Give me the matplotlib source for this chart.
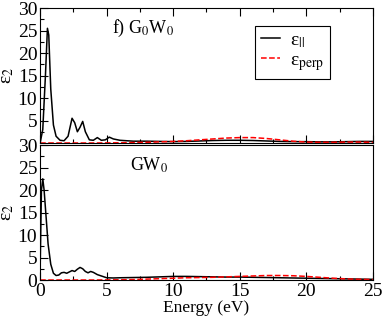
import matplotlib
matplotlib.use("Agg")
import matplotlib.pyplot as plt

plt.rcParams['font.family'] = ['Liberation Serif', 'DejaVu Serif']
plt.rcParams['mathtext.fontset'] = 'stix'

# G0W0 panel
e_top_par = [0, 0.2, 0.4, 0.55, 0.65, 0.8, 1.0, 1.2, 1.5, 1.8, 2.1, 2.4, 2.6, 2.8, 3.0, 3.2,
             3.4, 3.7, 4.0, 4.3, 4.6, 4.9, 5.2, 5.5, 6.0, 7, 8, 9, 10, 11, 12, 13, 14, 15,
             16, 17, 18, 19, 20, 21, 22, 23, 24, 25]
eps_top_par = [0, 3, 15, 25.5, 24, 12, 4, 1.5, 0.6, 0.5, 1.5, 5.5, 4.5, 2.5, 3.5, 4.8,
               2.5, 0.7, 0.6, 1.2, 0.6, 0.7, 1.3, 0.9, 0.6, 0.4, 0.4, 0.35, 0.3, 0.35, 0.45,
               0.55, 0.6, 0.6, 0.55, 0.45, 0.35, 0.3, 0.3, 0.25, 0.25, 0.3, 0.35, 0.35]
e_top_perp = [0, 2, 4, 5, 6, 7, 8, 9, 10, 11, 12, 13, 14, 15, 16, 17, 18, 19, 20, 21, 22, 23, 24, 25]
eps_top_perp = [0, 0, 0, 0.02, 0.05, 0.1, 0.15, 0.25, 0.35, 0.5, 0.7, 0.9, 1.1, 1.2, 1.2,
                1.0, 0.7, 0.4, 0.2, 0.15, 0.15, 0.2, 0.2, 0.15]

# GW0 panel
e_bot_par = [0, 0.1, 0.2, 0.3, 0.45, 0.6, 0.8, 1.0, 1.2, 1.4, 1.6, 1.8, 2.0, 2.2, 2.4, 2.6,
             2.8, 3.0, 3.2, 3.4, 3.6, 3.8, 4.0, 4.3, 4.6, 5.0, 5.5, 6, 7, 8, 9, 10, 11, 12,
             13, 14, 15, 16, 17, 18, 19, 20, 21, 22, 23, 24, 25]
eps_bot_par = [2, 20, 22.5, 20, 14, 8, 3.5, 1.5, 1.0, 1.1, 1.6, 1.7, 1.5, 1.8, 2.1, 1.9,
               2.4, 2.8, 2.5, 1.9, 1.6, 1.9, 1.7, 1.2, 0.9, 0.5, 0.45, 0.5, 0.55, 0.6, 0.7,
               0.8, 0.8, 0.75, 0.7, 0.65, 0.65, 0.6, 0.55, 0.5, 0.45, 0.4, 0.35, 0.3, 0.25,
               0.2, 0.15]
e_bot_perp = [0, 2, 4, 5, 6, 7, 8, 9, 10, 11, 12, 13, 14, 15, 16, 17, 18, 19, 20, 21, 22, 23, 24, 25]
eps_bot_perp = [0, 0, 0, 0.02, 0.05, 0.1, 0.2, 0.3, 0.4, 0.5, 0.55, 0.6, 0.7, 0.8, 0.9,
                1.0, 1.0, 0.95, 0.8, 0.6, 0.4, 0.25, 0.15, 0.1]

yticks_top = [5, 10, 15, 20, 25, 30]   # top panel's 0 sits under the lower panel's 30
yticks_bot = [0, 5, 10, 15, 20, 25, 30]

fig = plt.figure(figsize=(3.82, 3.16), dpi=100)
ax1 = fig.add_axes([0.105, 0.5475, 0.871, 0.427])
ax2 = fig.add_axes([0.105, 0.1139, 0.871, 0.427])

for ax, yt in ((ax1, yticks_top), (ax2, yticks_bot)):
    ax.set_xlim(0, 25)
    ax.set_ylim(0, 30)
    ax.set_xticks([0, 5, 10, 15, 20, 25])
    ax.set_xticks([2.5, 7.5, 12.5, 17.5, 22.5], minor=True)
    ax.set_yticks(yt)
    ax.set_yticks([2.5, 7.5, 12.5, 17.5, 22.5, 27.5], minor=True)
    ax.tick_params(which='both', direction='in', labelsize=14, width=0.8, pad=2)
    ax.tick_params(which='major', length=6)
    ax.tick_params(which='minor', length=3)
    ax.set_ylabel(r'ε$_2$', fontsize=14, labelpad=1)

ax1.tick_params(which='both', top=True, labelbottom=False)

l1, = ax1.plot(e_top_par, eps_top_par, 'k-', lw=1.1)
l2, = ax1.plot(e_top_perp, eps_top_perp, '--', color='red', lw=1.1)
ax2.plot(e_bot_par, eps_bot_par, 'k-', lw=1.1)
ax2.plot(e_bot_perp, eps_bot_perp, '--', color='red', lw=1.1)

ax1.text(0.215, 0.85, r'f) G$_0$W$_0$', transform=ax1.transAxes, fontsize=13, va='center')
ax2.text(0.27, 0.85, r'GW$_0$', transform=ax2.transAxes, fontsize=13, va='center')

leg = ax1.legend([l1, l2], [r'ε$_{||}$', r'ε$_{\mathrm{perp}}$'],
                 loc='upper left', bbox_to_anchor=(0.645, 0.87), borderaxespad=0,
                 fontsize=14, fancybox=False, edgecolor='black', framealpha=1,
                 handlelength=1.0, handletextpad=0.5, borderpad=0.3, labelspacing=0.1)
leg.get_frame().set_linewidth(0.8)

ax2.set_xlabel('Energy (eV)', fontsize=12.5, labelpad=0)

fig.savefig('out.png', dpi=100)
